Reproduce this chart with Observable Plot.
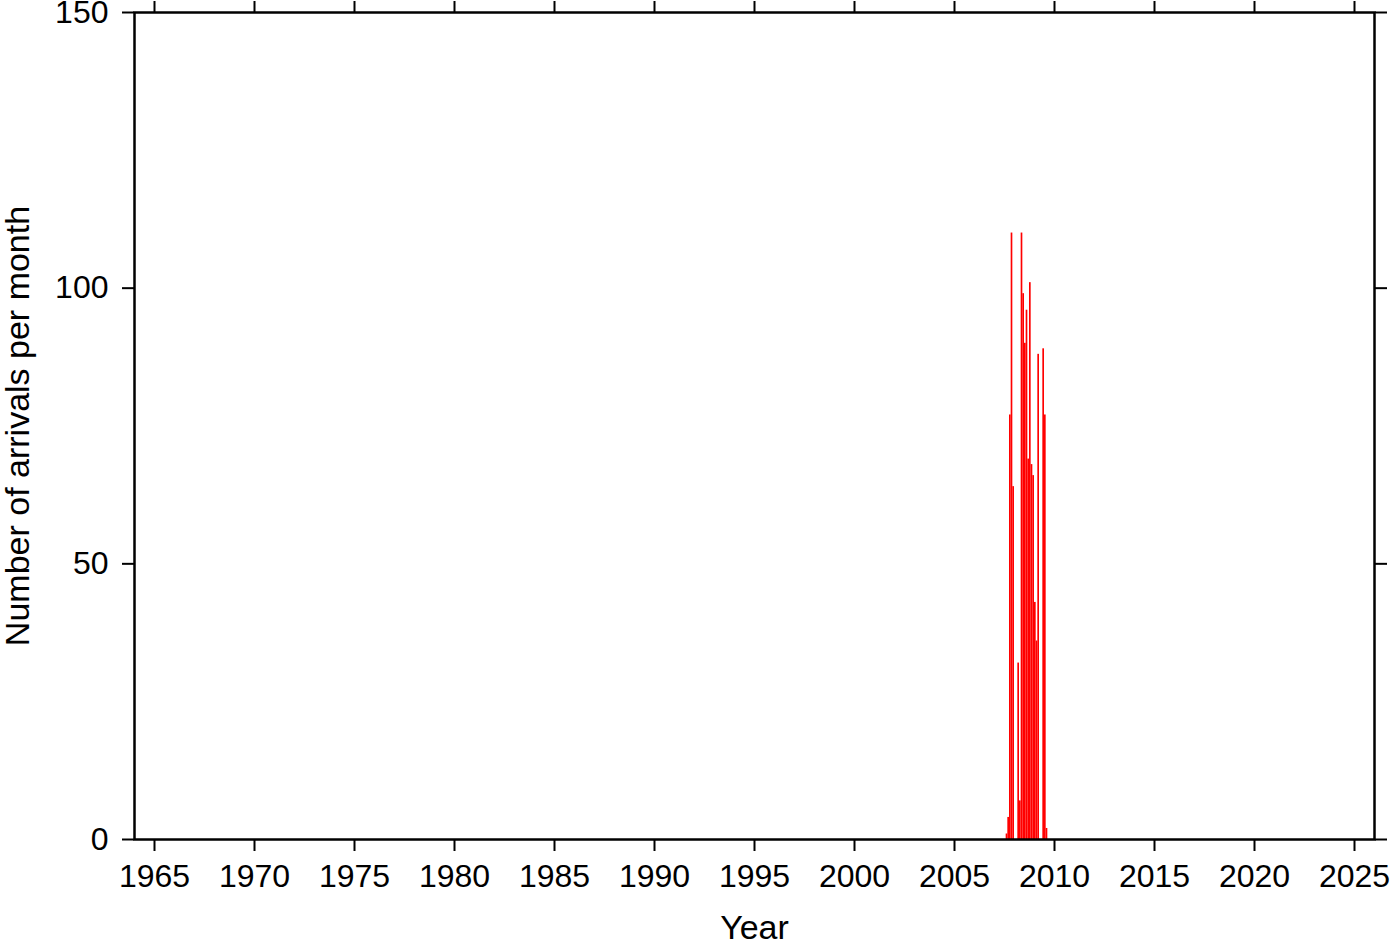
<!DOCTYPE html>
<html>
<head>
<meta charset="utf-8">
<script src="https://cdn.jsdelivr.net/npm/d3@7"></script>
<script src="https://cdn.jsdelivr.net/npm/@observablehq/plot@0.6"></script>
<style>
  html, body { margin: 0; padding: 0; background: white; }
  #chart { width: 1400px; height: 942px; }
</style>
</head>
<body>
<div id="chart"></div>
<script>
// Monthly arrival counts (year-month)
const months = [
  "2007-08","2007-09","2007-10","2007-11","2007-12",
  "2008-01","2008-02","2008-03","2008-04","2008-05","2008-06",
  "2008-07","2008-08","2008-09","2008-10","2008-11","2008-12",
  "2009-01","2009-02","2009-03","2009-04","2009-05","2009-06",
  "2009-07","2009-08"
];
const counts = [
  1, 4, 77, 110, 64,
  0, 0, 32, 7, 110, 99,
  90, 96, 69, 101, 68, 66,
  43, 36, 88, 0, 0, 89,
  77, 2
];
const xTicks = [1965,1970,1975,1980,1985,1990,1995,2000,2005,2010,2015,2020,2025];
const yTicks = [0, 50, 100, 150];
const xDomain = [1964, 2026];
const yDomain = [0, 150];

const data = months.map((m, i) => {
  const [yy, mm] = m.split("-").map(Number);
  return { start: yy + (mm - 1) / 12, end: yy + mm / 12, count: counts[i] };
});

const chart = Plot.plot({
  width: 1400,
  height: 942,
  marginLeft: 134,
  marginRight: 26,
  marginTop: 12,
  marginBottom: 103,
  style: { fontFamily: "'Liberation Sans', Arial, Helvetica, sans-serif", fontSize: "32px", background: "white", color: "black", overflow: "visible" },
  x: { domain: xDomain },
  y: { domain: yDomain },
  marks: [
    Plot.rectY(data, { x1: "start", x2: "end", y: "count", fill: "#ff0000", inset: 0 }),
    Plot.frame({ stroke: "black", strokeWidth: 2.5 }),
    Plot.axisX({ anchor: "bottom", ticks: xTicks, tickFormat: "d", tickSize: 12, tickPadding: 13, strokeWidth: 2, label: null, fontSize: 32 }),
    Plot.axisX({ anchor: "top", ticks: xTicks, tickFormat: () => "", tickSize: 12, strokeWidth: 2, label: null }),
    Plot.axisY({ anchor: "left", ticks: yTicks, tickFormat: "d", tickSize: 12, tickPadding: 14, strokeWidth: 2, label: null, fontSize: 32 }),
    Plot.axisY({ anchor: "right", ticks: yTicks, tickFormat: () => "", tickSize: 12, strokeWidth: 2, label: null }),
    Plot.text(["Year"], { frameAnchor: "bottom", dy: 89, lineAnchor: "middle", textAnchor: "middle", fontSize: 34 }),
    Plot.text(["Number of arrivals per month"], { frameAnchor: "left", dx: -116, rotate: -90, lineAnchor: "middle", textAnchor: "middle", fontSize: 34 })
  ]
});
document.getElementById("chart").appendChild(chart);
</script>
</body>
</html>
